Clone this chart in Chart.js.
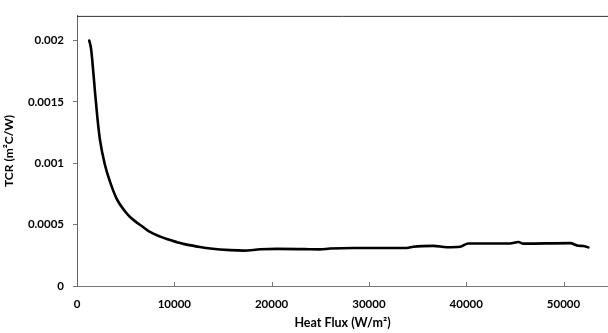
<!DOCTYPE html>
<html>
<head>
<meta charset="utf-8">
<script src="https://cdn.jsdelivr.net/npm/chart.js@4"></script>
<style>
  html, body { margin: 0; padding: 0; background: #fff; overflow: hidden; }
  #c { display: block; }
</style>
</head>
<body>
<canvas id="c" width="608" height="333"></canvas>
<script>
const heatFlux = [1260, 1450, 1700, 1850, 2090, 2360, 2880, 3390, 4080, 4930, 5480, 6850, 7500, 8560, 9220, 10280, 10930, 11990, 12640, 13700, 15760, 17130, 18840, 20550, 23300, 24970, 26000, 28400, 33880, 34560, 36620, 38000, 39360, 40220, 42100, 44500, 45360, 45870, 50670, 51520, 52030, 52550];
const tcr = [0.00200, 0.00193, 0.00172, 0.00158, 0.001375, 0.00119, 0.000984, 0.00085, 0.00071, 0.000609, 0.00056, 0.000477, 0.000440, 0.000402, 0.000382, 0.000357, 0.000343, 0.000327, 0.000318, 0.000306, 0.000292, 0.000288, 0.000299, 0.000302, 0.000300, 0.000298, 0.000305, 0.00031, 0.00031, 0.00032, 0.000327, 0.000316, 0.00032, 0.000346, 0.000346, 0.000346, 0.000358, 0.000345, 0.000349, 0.000328, 0.000326, 0.000314];
const xTickValues = [0, 10000, 20000, 30000, 40000, 50000];
const yTickValues = [0, 0.0005, 0.001, 0.0015, 0.002];
const xTitle = 'Heat Flux (W/m\u00B2)';
const yTitle = 'TCR (m\u00B2C/W)';

const points = heatFlux.map((x, i) => ({ x: x, y: tcr[i] }));

const frame = {
  id: 'frame',
  afterDraw(chart) {
    const { ctx, chartArea } = chart;
    ctx.save();
    ctx.strokeStyle = '#333';
    ctx.lineWidth = 1;
    ctx.beginPath();
    ctx.moveTo(chartArea.left, chartArea.top + 0.5);
    ctx.lineTo(chartArea.right, chartArea.top + 0.5);
    ctx.stroke();
    const xs = chart.scales.x;
    ctx.strokeStyle = '#777';
    xTickValues.forEach(v => {
      if (v === 0) return;
      const px = Math.round(xs.getPixelForValue(v)) + 0.5;
      ctx.beginPath();
      ctx.moveTo(px, chartArea.bottom);
      ctx.lineTo(px, chartArea.bottom - 4);
      ctx.stroke();
    });
    ctx.restore();
  }
};

new Chart(document.getElementById('c'), {
  type: 'line',
  data: {
    datasets: [{
      data: points,
      borderColor: '#000',
      borderWidth: 2.6,
      borderJoinStyle: 'round',
      borderCapStyle: 'round',
      pointRadius: 0,
      fill: false,
      cubicInterpolationMode: 'monotone'
    }]
  },
  options: {
    responsive: false,
    animation: false,
    layout: { padding: { top: 5, right: 0, bottom: 0, left: 0 } },
    plugins: { legend: { display: false }, tooltip: { enabled: false } },
    scales: {
      x: {
        type: 'linear',
        min: 0,
        max: 54570,
        afterBuildTicks: s => { s.ticks = xTickValues.map(v => ({ value: v })); },
        afterFit: s => { s.height = 47; },
        grid: { display: true, drawOnChartArea: false, drawTicks: false },
        border: { color: '#777', width: 1 },
        ticks: {
          padding: 11,
          color: '#000',
          maxRotation: 0,
          font: { family: 'Lato', weight: 'bold', size: 11.5 },
          callback: v => String(v)
        },
        title: {
          display: true,
          text: xTitle,
          color: '#000',
          font: { family: 'Lato', weight: 'bold', size: 12.5 },
          padding: { top: 0, bottom: 3 }
        }
      },
      y: {
        min: 0,
        max: 0.0022,
        afterBuildTicks: s => { s.ticks = yTickValues.map(v => ({ value: v })); },
        afterFit: s => { s.width = 77; },
        grid: { display: true, drawOnChartArea: false, drawTicks: true, tickLength: 4, color: '#777' },
        border: { color: '#666', width: 1 },
        ticks: {
          padding: 9,
          color: '#000',
          font: { family: 'Lato', weight: 'bold', size: 11.5 },
          callback: v => String(+(+v).toFixed(4))
        },
        title: {
          display: true,
          text: yTitle,
          color: '#000',
          font: { family: 'Lato', weight: 'bold', size: 12 },
          padding: { top: 2, bottom: 0 }
        }
      }
    }
  },
  plugins: [frame]
});
</script>
</body>
</html>
